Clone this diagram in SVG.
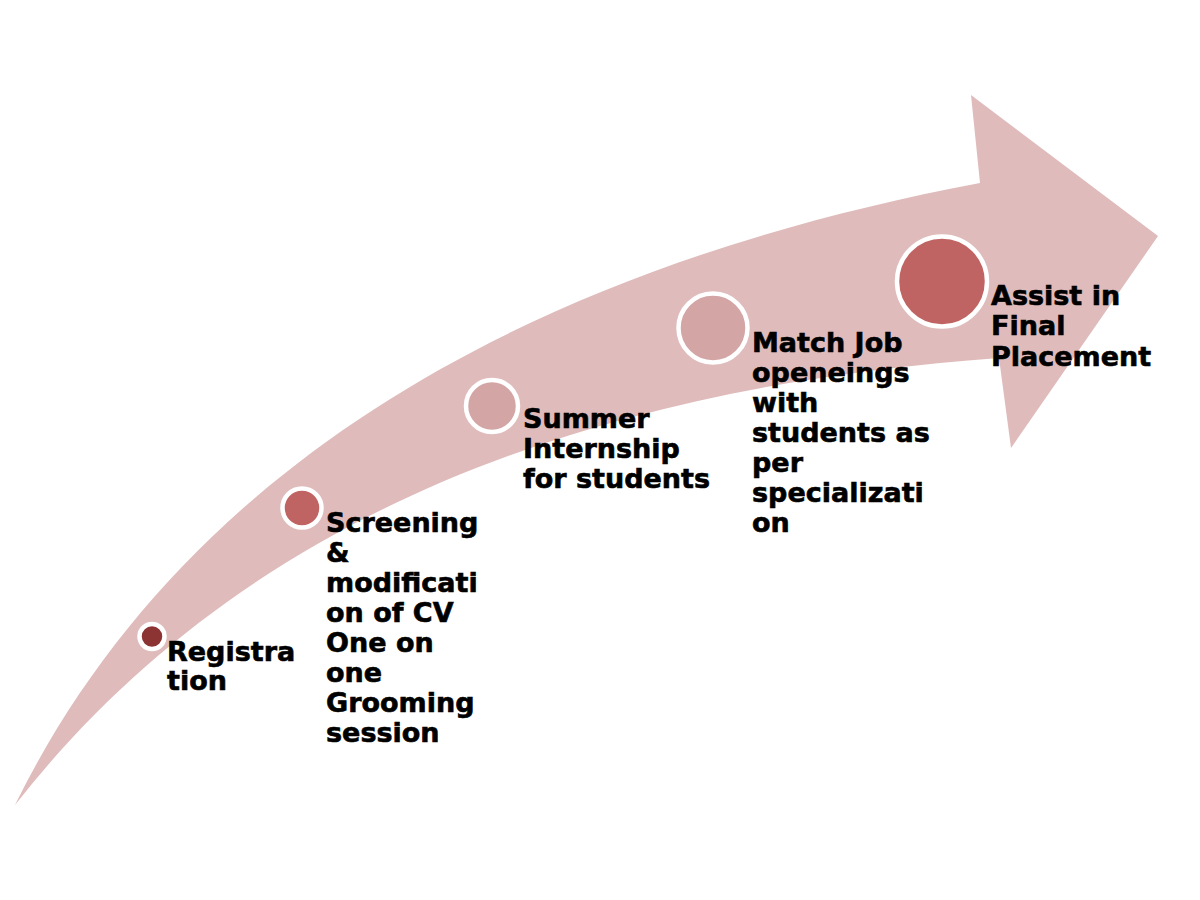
<svg xmlns="http://www.w3.org/2000/svg" width="1200" height="900" viewBox="0 0 1200 900">
<style>
.lbl{font-family:"DejaVu Sans","Verdana",sans-serif;font-weight:bold;font-size:27px;fill:#000;stroke:#000;stroke-width:0.6}
.dot{stroke:#fff;stroke-width:4.5}
</style>
<rect width="1200" height="900" fill="#fff"/>
<g id="arrow">
<path d="M15,805 C180,470 520,270 980,183 L971,95 L1158,236 L1011,448 L999,358 C560,390 230,530 15,805 Z" fill="#dfbbbb"/>
</g>
<g id="connectors"></g>
<g id="n1">
<circle class="dot" cx="152" cy="636.5" r="12.5" fill="#8c3434" stroke-width="3.5"/>
<text class="lbl" x="167" y="661">Registra</text>
<text class="lbl" x="167" y="690">tion</text>
</g>
<g id="n2">
<circle class="dot" cx="302" cy="508" r="19.5" fill="#bf6462" stroke-width="4"/>
<text class="lbl" x="326" y="532">Screening</text>
<text class="lbl" x="326" y="562">&amp;</text>
<text class="lbl" x="326" y="592">modificati</text>
<text class="lbl" x="326" y="622">on of CV</text>
<text class="lbl" x="326" y="652">One on</text>
<text class="lbl" x="326" y="682">one</text>
<text class="lbl" x="326" y="712">Grooming</text>
<text class="lbl" x="326" y="742">session</text>
</g>
<g id="n3">
<circle class="dot" cx="492" cy="406" r="26" fill="#d4a5a5"/>
<text class="lbl" x="523" y="428">Summer</text>
<text class="lbl" x="523" y="458">Internship</text>
<text class="lbl" x="523" y="488">for students</text>
</g>
<g id="n4">
<circle class="dot" cx="713" cy="328" r="34.5" fill="#d4a5a5"/>
<text class="lbl" x="752" y="352">Match Job</text>
<text class="lbl" x="752" y="382">openeings</text>
<text class="lbl" x="752" y="412">with</text>
<text class="lbl" x="752" y="442">students as</text>
<text class="lbl" x="752" y="472">per</text>
<text class="lbl" x="752" y="502">specializati</text>
<text class="lbl" x="752" y="532">on</text>
</g>
<g id="n5">
<circle class="dot" cx="942" cy="281.5" r="45" fill="#bf6462" stroke-width="5"/>
<text class="lbl" x="991" y="305">Assist in</text>
<text class="lbl" x="991" y="335">Final</text>
<text class="lbl" x="991" y="366">Placement</text>
</g>
</svg>
